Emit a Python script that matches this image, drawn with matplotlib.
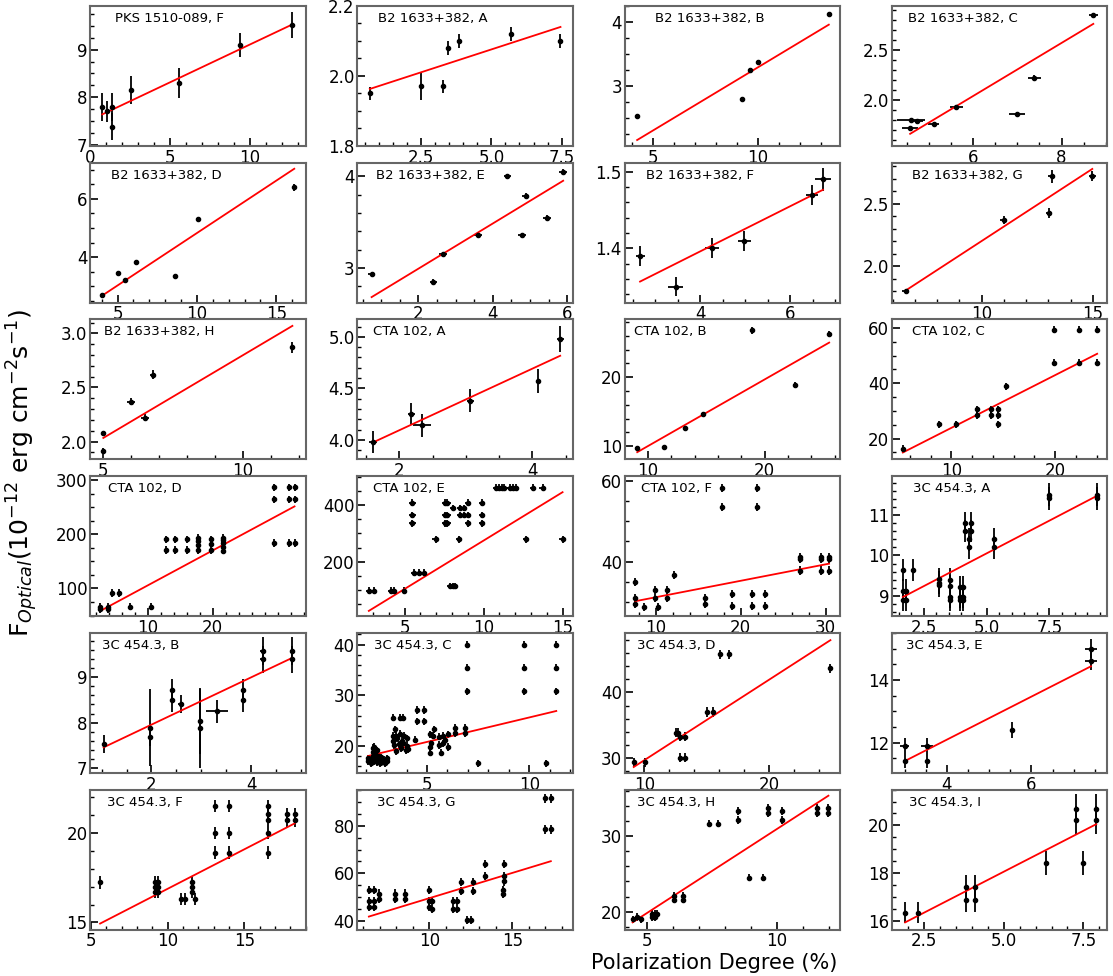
import numpy as np
import matplotlib.pyplot as plt
from matplotlib.ticker import MultipleLocator, FixedLocator

titles = ["PKS 1510-089, F", "B2 1633+382, A", "B2 1633+382, B", "B2 1633+382, C",
          "B2 1633+382, D", "B2 1633+382, E", "B2 1633+382, F", "B2 1633+382, G",
          "B2 1633+382, H", "CTA 102, A", "CTA 102, B", "CTA 102, C",
          "CTA 102, D", "CTA 102, E", "CTA 102, F", "3C 454.3, A",
          "3C 454.3, B", "3C 454.3, C", "3C 454.3, D", "3C 454.3, E",
          "3C 454.3, F", "3C 454.3, G", "3C 454.3, H", "3C 454.3, I"]

# PKS 1510-089, F
pks_f_x = [0.76, 1.05, 1.34, 1.34, 2.57, 5.54, 9.42, 12.68]
pks_f_y = [7.79, 7.71, 7.79, 7.38, 8.15, 8.30, 9.09, 9.52]
pks_f_xe = 0.1
pks_f_ye = [0.29, 0.22, 0.29, 0.28, 0.30, 0.32, 0.25, 0.27]

# B2 1633+382, A - H
b2a_x = [0.67, 2.5, 3.28, 3.45, 3.85, 5.70, 7.46]
b2a_y = [1.95, 1.97, 1.97, 2.08, 2.10, 2.12, 2.10]
b2a_xe = 0.08
b2a_ye = [0.018, 0.038, 0.018, 0.02, 0.02, 0.02, 0.02]

b2b_x = [4.23, 9.25, 9.63, 9.97, 13.37]
b2b_y = [2.53, 2.80, 3.25, 3.37, 4.12]
b2b_xe = 0.08
b2b_ye = 0.03

b2c_x = [4.57, 4.59, 4.72, 5.10, 5.62, 7.00, 7.38, 8.72]
b2c_y = [1.72, 1.80, 1.79, 1.76, 1.93, 1.86, 2.22, 2.85]
b2c_xe = [0.18, 0.31, 0.15, 0.12, 0.15, 0.18, 0.15, 0.10]
b2c_ye = [0.02, 0.02, 0.02, 0.02, 0.02, 0.02, 0.03, 0.02]

b2d_x = [4.03, 5.0, 5.49, 6.17, 8.6, 10.06, 16.13]
b2d_y = [2.70, 3.46, 3.21, 3.83, 3.34, 5.31, 6.39]
b2d_xe = 0.1
b2d_ye = [0.04, 0.08, 0.04, 0.04, 0.04, 0.04, 0.12]

b2e_x = [0.74, 2.40, 2.66, 3.60, 4.39, 4.88, 4.78, 5.46, 5.89]
b2e_y = [2.93, 2.85, 3.15, 3.36, 4.00, 3.79, 3.36, 3.55, 4.05]
b2e_xe = 0.1
b2e_ye = 0.025

b2f_x = [2.66, 3.45, 4.26, 4.98, 6.49, 6.73]
b2f_y = [1.39, 1.35, 1.40, 1.41, 1.47, 1.49]
b2f_xe = [0.10, 0.17, 0.15, 0.15, 0.13, 0.17]
b2f_ye = [0.013, 0.013, 0.013, 0.013, 0.013, 0.015]

b2g_x = [6.58, 10.98, 13.03, 13.15, 14.97]
b2g_y = [1.80, 2.37, 2.43, 2.72, 2.72]
b2g_xe = 0.15
b2g_ye = [0.02, 0.03, 0.04, 0.05, 0.04]

b2h_x = [5.0, 5.0, 5.98, 6.49, 6.76, 11.76]
b2h_y = [2.08, 1.91, 2.37, 2.22, 2.62, 2.87]
b2h_xe = [0.08, 0.08, 0.15, 0.15, 0.10, 0.10]
b2h_ye = [0.02, 0.03, 0.03, 0.03, 0.04, 0.05]

# CTA 102, A - F
ctaa_x = [1.61, 2.18, 2.34, 3.07, 4.09, 4.42]
ctaa_y = [3.98, 4.25, 4.14, 4.38, 4.57, 4.98]
ctaa_xe = [0.06, 0.05, 0.13, 0.05, 0.03, 0.05]
ctaa_ye = [0.11, 0.11, 0.11, 0.11, 0.12, 0.13]

ctab_x = [9.08, 11.38, 13.2, 14.74, 18.96, 22.6, 25.54]
ctab_y = [9.79, 9.9, 12.64, 14.61, 26.84, 18.9, 26.27]
ctab_xe = 0.15
ctab_ye = [0.25, 0.3, 0.3, 0.3, 0.5, 0.4, 0.5]

ctac_x = [5.33, 8.86, 10.45, 12.45, 12.45, 13.8, 13.8, 14.53, 14.53, 14.53,
          15.3, 19.93, 19.93, 22.35, 22.35, 24.06, 24.06]
ctac_y = [16.4, 25.2, 25.2, 30.6, 28.4, 30.6, 28.4, 30.6, 28.4, 25.2,
          38.9, 59.4, 47.5, 59.4, 47.5, 59.4, 47.5]
ctac_xe = 0.2
ctac_ye = 1.2

ctad_x = [2.69, 2.69, 3.85, 3.85, 4.4, 5.55, 7.25, 10.55, 12.86, 12.86,
          14.12, 14.12, 16.1, 16.1, 17.8, 17.8, 17.8, 17.8, 19.7, 19.7,
          19.7, 21.5, 21.5, 21.5, 21.5, 21.5, 29.4, 29.4, 29.4, 31.7,
          31.7, 31.7, 32.6, 32.6, 32.6]
ctad_y = [66.6, 62, 66.6, 62, 91.5, 91.5, 66.6, 66.6, 191, 171.5,
          191, 171.5, 191, 171.5, 193, 187, 180, 171.5, 191, 183,
          171.5, 193, 189, 183.6, 177, 170, 287, 265, 184.6, 287,
          265, 184.6, 287, 265, 184.6]
ctad_xe = 0.3
ctad_ye = 7

ctae_x = [2.74, 3.04, 4.16, 4.32, 4.95, 5.5, 5.5, 5.5, 5.63, 5.9,
          6.2, 6.96, 7.55, 7.55, 7.55, 7.71, 7.71, 7.71, 7.87, 8.05,
          8.2, 8.05, 8.45, 8.54, 8.54, 8.77, 8.77, 9.0, 9.0, 9.0,
          9.9, 9.9, 9.9, 10.8, 10.98, 11.16, 11.32, 11.7, 11.88, 12.04,
          12.67, 13.13, 13.74, 15.0]
ctae_y = [99, 99, 99, 99, 99, 409, 365, 336, 162.5, 162.5,
          162.5, 280, 409, 365, 336, 409, 365, 336, 115, 115,
          115, 390, 280, 390, 365, 390, 365, 409, 365, 336,
          409, 365, 336, 462, 462, 462, 462, 462, 462, 462,
          280, 462, 462, 280]
ctae_xe = 0.2
ctae_ye = 12

ctaf_x = [7.6, 7.6, 7.6, 8.66, 9.87, 9.87, 10.3, 11.38, 11.38, 12.2,
          15.8, 15.8, 17.76, 17.76, 19.0, 19.0, 21.3, 21.3, 21.95, 21.95,
          22.8, 22.8, 27.0, 27.0, 27.0, 29.4, 29.4, 29.4, 30.4, 30.4, 30.4]
ctaf_y = [35.0, 31.0, 29.6, 28.8, 32.9, 31.0, 28.8, 32.9, 31.0, 36.6,
          31.0, 29.6, 58.2, 53.6, 32.0, 29.0, 32.0, 29.0, 58.2, 53.6,
          32.0, 29.0, 41.25, 40.6, 37.8, 41.25, 40.6, 37.8, 41.25, 40.6, 37.8]
ctaf_xe = 0.2
ctaf_ye = 1.0

# 3C 454.3, A - I
c3a_x = [1.67, 1.67, 1.67, 1.8, 1.8, 2.06, 3.1, 3.1, 3.1, 3.53,
         3.53, 3.53, 3.53, 3.93, 3.93, 3.93, 4.07, 4.07, 4.07, 4.14,
         4.14, 4.31, 4.31, 4.39, 4.39, 5.29, 5.29, 7.47, 7.47, 9.39, 9.39]
c3a_y = [9.64, 9.13, 8.9, 9.13, 8.9, 9.64, 9.42, 9.33, 9.26, 9.40,
         9.24, 8.97, 8.9, 9.21, 8.97, 8.9, 9.21, 8.97, 8.9, 10.8,
         10.6, 10.4, 10.2, 10.8, 10.6, 10.4, 10.2, 11.5, 11.41, 11.5, 11.41]
c3a_xe = 0.03
c3a_ye = 0.28

c3b_x = [1.04, 1.98, 1.98, 2.42, 2.42, 2.6, 2.98, 2.98, 3.32, 3.84,
         3.84, 4.24, 4.24, 4.82, 4.82]
c3b_y = [7.54, 7.89, 7.68, 8.72, 8.49, 8.41, 8.03, 7.89, 8.25, 8.72,
         8.49, 9.57, 9.39, 9.57, 9.39]
c3b_xe = [0.03, 0.05, 0.05, 0.05, 0.05, 0.06, 0.03, 0.03, 0.22, 0.05,
          0.05, 0.06, 0.06, 0.05, 0.05]
c3b_ye = [0.2, 0.85, 0.2, 0.25, 0.25, 0.2, 0.72, 0.88, 0.25, 0.25,
          0.25, 0.3, 0.3, 0.3, 0.3]

c3c_x = [2.12, 2.12, 2.25, 2.25, 2.35, 2.35, 2.35, 2.42, 2.42, 2.48,
         2.48, 2.55, 2.55, 2.6, 2.6, 2.68, 2.68, 2.75, 2.8, 2.88,
         2.95, 3.05, 3.05, 3.32, 3.35, 3.35, 3.4, 3.45, 3.5, 3.5,
         3.55, 3.62, 3.7, 3.7, 3.75, 3.8, 3.85, 3.85, 3.9, 3.95,
         4.0, 4.0, 4.05, 4.42, 4.51, 4.51, 4.86, 4.86, 5.15, 5.15,
         5.15, 5.2, 5.3, 5.35, 5.6, 5.6, 5.7, 5.8, 5.8, 5.9,
         6.05, 6.05, 6.35, 6.35, 6.87, 6.87, 6.95, 6.95, 6.95, 7.47,
         9.74, 9.74, 9.74, 10.8, 11.32, 11.32, 11.32]
c3c_y = [17.0, 17.6, 16.6, 17.3, 18.0, 18.8, 19.6, 17.0, 19.9, 18.4,
         17.6, 16.8, 19.2, 17.4, 18.0, 16.6, 17.2, 17.8, 16.9, 17.3,
         16.6, 17.0, 17.6, 25.6, 22.0, 21.0, 20.2, 23.3, 22.0, 19.0,
         21.5, 20.3, 25.6, 22.4, 19.6, 21.0, 25.6, 20.5, 22.0, 19.2,
         21.5, 20.0, 19.4, 21.2, 27.1, 24.9, 27.1, 24.9, 22.3, 19.8,
         18.7, 20.5, 22.0, 23.3, 21.8, 20.2, 18.7, 22.0, 20.5, 21.2,
         22.3, 19.8, 23.6, 22.5, 23.6, 22.5, 40.0, 35.4, 30.8, 16.6,
         40.0, 35.4, 30.8, 16.6, 40.0, 35.4, 30.8]
c3c_xe = 0.04
c3c_ye = 0.7

c3d_x = [9.14, 10.06, 12.55, 12.7, 12.84, 12.84, 13.3, 13.3, 15.06, 15.5,
         16.1, 16.8, 24.95]
c3d_y = [29.34, 29.34, 33.85, 33.85, 33.2, 30.0, 33.2, 30.0, 37.0, 37.0,
         45.8, 45.8, 43.7]
c3d_xe = 0.15
c3d_ye = 0.7

c3e_x = [3.0, 3.0, 3.53, 3.53, 5.55, 7.41, 7.41]
c3e_y = [11.91, 11.43, 11.91, 11.43, 12.41, 15.0, 14.62]
c3e_xe = [0.1, 0.05, 0.15, 0.05, 0.05, 0.15, 0.15]
c3e_ye = [0.25, 0.25, 0.25, 0.25, 0.25, 0.3, 0.3]

c3f_x = [5.6, 9.15, 9.15, 9.15, 9.4, 9.4, 9.4, 10.9, 11.16, 11.6,
         11.6, 11.6, 11.8, 13.07, 13.07, 13.07, 14.0, 14.0, 14.0, 16.56,
         16.56, 16.56, 16.56, 16.56, 17.77, 17.77, 18.3, 18.3]
c3f_y = [17.24, 17.24, 16.96, 16.7, 17.24, 16.96, 16.7, 16.3, 16.3, 17.24,
         16.96, 16.7, 16.3, 21.5, 20.0, 18.9, 21.5, 20.0, 18.9, 21.5,
         21.06, 20.7, 20.0, 18.9, 21.06, 20.7, 21.06, 20.7]
c3f_xe = 0.05
c3f_ye = 0.35

c3g_x = [6.34, 6.34, 6.34, 6.66, 6.66, 6.66, 6.98, 6.98, 7.9, 7.9,
         8.55, 8.55, 10.0, 10.0, 10.0, 10.15, 10.15, 11.4, 11.4, 11.66,
         11.66, 11.88, 11.88, 12.26, 12.5, 12.6, 12.6, 13.36, 13.36, 14.52,
         14.52, 14.52, 14.47, 14.47, 16.96, 16.96, 17.33, 17.33]
c3g_y = [52.9, 48.4, 45.8, 52.9, 48.4, 45.8, 51.4, 49.4, 51.4, 49.4,
         51.4, 49.4, 52.9, 48.4, 45.8, 48.4, 44.9, 48.4, 44.9, 48.4,
         44.9, 56.4, 52.5, 40.3, 40.3, 56.4, 52.5, 63.9, 58.9, 63.9,
         58.9, 56.6, 52.9, 51.4, 91.5, 78.5, 91.5, 78.5]
c3g_xe = 0.05
c3g_ye = 1.8

c3h_x = [4.45, 4.62, 4.78, 5.2, 5.2, 5.3, 5.3, 5.4, 6.05, 6.05,
         6.37, 6.37, 7.38, 7.73, 8.48, 8.48, 8.92, 9.45, 9.64, 9.64,
         10.2, 10.2, 11.55, 11.55, 11.97, 11.97]
c3h_y = [18.95, 19.3, 18.95, 19.7, 19.3, 19.7, 19.3, 19.7, 22.05, 21.6,
         22.05, 21.6, 31.7, 31.7, 33.4, 32.2, 24.5, 24.5, 33.8, 33.1,
         33.4, 32.2, 33.8, 33.1, 33.8, 33.1]
c3h_xe = 0.05
c3h_ye = 0.5

c3i_x = [1.92, 2.31, 3.83, 3.83, 4.1, 4.1, 6.32, 7.28, 7.28, 7.5, 7.9, 7.9]
c3i_y = [16.33, 16.33, 17.4, 16.86, 17.4, 16.86, 18.42, 20.7, 20.23, 18.42, 20.7, 20.23]
c3i_xe = 0.05
c3i_ye = [0.45, 0.45, 0.5, 0.5, 0.5, 0.5, 0.5, 0.6, 0.6, 0.5, 0.6, 0.6]

# linear fits: F = slope * P + intercept
fit_slope = [0.1586, 0.0261, 0.1975, 0.265, 0.3595, 0.247, 0.0295, 0.116,
             0.1534, 0.299, 0.9666, 1.906, 6.46, 34.1, 0.408, 0.324,
             0.519, 0.965, 1.227, 0.685, 0.441, 2.12, 2.238, 0.69]
fit_icept = [7.52, 1.945, 1.315, 0.449, 1.231, 2.497, 1.278, 1.043,
             1.266, 3.495, 0.343, 4.81, 41.3, -66.0, 27.1, 8.43,
             6.92, 15.98, 17.38, 9.36, 12.47, 28.36, 8.61, 14.6]

panels = [
    (pks_f_x, pks_f_y, pks_f_xe, pks_f_ye),
    (b2a_x, b2a_y, b2a_xe, b2a_ye), (b2b_x, b2b_y, b2b_xe, b2b_ye),
    (b2c_x, b2c_y, b2c_xe, b2c_ye), (b2d_x, b2d_y, b2d_xe, b2d_ye),
    (b2e_x, b2e_y, b2e_xe, b2e_ye), (b2f_x, b2f_y, b2f_xe, b2f_ye),
    (b2g_x, b2g_y, b2g_xe, b2g_ye), (b2h_x, b2h_y, b2h_xe, b2h_ye),
    (ctaa_x, ctaa_y, ctaa_xe, ctaa_ye), (ctab_x, ctab_y, ctab_xe, ctab_ye),
    (ctac_x, ctac_y, ctac_xe, ctac_ye), (ctad_x, ctad_y, ctad_xe, ctad_ye),
    (ctae_x, ctae_y, ctae_xe, ctae_ye), (ctaf_x, ctaf_y, ctaf_xe, ctaf_ye),
    (c3a_x, c3a_y, c3a_xe, c3a_ye), (c3b_x, c3b_y, c3b_xe, c3b_ye),
    (c3c_x, c3c_y, c3c_xe, c3c_ye), (c3d_x, c3d_y, c3d_xe, c3d_ye),
    (c3e_x, c3e_y, c3e_xe, c3e_ye), (c3f_x, c3f_y, c3f_xe, c3f_ye),
    (c3g_x, c3g_y, c3g_xe, c3g_ye), (c3h_x, c3h_y, c3h_xe, c3h_ye),
    (c3i_x, c3i_y, c3i_xe, c3i_ye),
]

# axis ranges and tick spacing (major, minor) per panel
xlims = [(0, 13.5), (0.23, 7.9), (3.64, 13.91), (4.16, 9.04), (3.27, 16.84), (0.36, 6.15),
         (2.32, 7.11), (5.97, 15.65), (4.53, 12.23), (1.37, 4.61), (8.01, 26.48), (4.29, 25.05),
         (1.1, 34.3), (2.02, 15.65), (6.35, 31.7), (1.24, 9.81), (0.77, 5.09), (1.6, 12.13),
         (8.42, 25.73), (2.7, 7.8), (4.95, 19.0), (5.65, 18.66), (4.15, 12.42), (1.51, 8.25)]
ylims = [(6.98, 9.92), (1.8, 2.2), (2.06, 4.25), (1.54, 2.94), (2.44, 7.24), (2.62, 4.15),
         (1.329, 1.512), (1.71, 2.83), (1.835, 3.13), (3.81, 5.17), (8.08, 28.4), (12.5, 63.1),
         (48.9, 307.9), (9, 502), (26.5, 61.2), (8.5, 11.96), (6.9, 9.97), (14.7, 42.3),
         (27.7, 49.1), (11.04, 15.5), (14.6, 22.42), (36.3, 95.2), (17.6, 36.2), (15.62, 21.5)]
xticks = [(5, 1), (2.5, 0.5), (5, 1), (2, 0.5), (5, 1), (2, 0.5), (2, 0.5), (5, 1),
          (5, 1), (2, 0.5), (10, 2), (10, 2), (10, 2), (5, 1), (10, 2), (2.5, 0.5),
          (2, 0.5), (5, 1), (10, 2), (2, 0.5), (5, 1), (5, 1), (5, 1), (2.5, 0.5)]
yticks = [(1, 0.25), (0.2, 0.05), (1, 0.25), (0.5, 0.1), (2, 0.5), (1, 0.2), (0.1, 0.02), (0.5, 0.1),
          (0.5, 0.1), (0.5, 0.1), (10, 2), (20, 5), (100, 25), (200, 50), (20, 5), (1, 0.2),
          (1, 0.2), (10, 2), (10, 2), (2, 0.5), (5, 1), (20, 5), (10, 2), (2, 0.5)]
# CTA 102, D only labels 10 and 20
fixed_xmajor = {12: [10, 20]}
title_x = [0.116, 0.094, 0.139, 0.075, 0.099, 0.086, 0.099, 0.092, 0.066, 0.07, 0.045, 0.093,
           0.083, 0.073, 0.075, 0.097, 0.056, 0.078, 0.056, 0.063, 0.078, 0.091, 0.056, 0.077]

fig, axes = plt.subplots(6, 4, figsize=(11.13, 9.76), dpi=100)
plt.subplots_adjust(left=0.081, right=0.995, top=0.994, bottom=0.0475,
                    wspace=0.241, hspace=0.12)

for i, ax in enumerate(axes.flat):
    x, y, xe, ye = panels[i]
    ax.errorbar(x, y, xerr=xe, yerr=ye, fmt='o', color='k', ms=3,
                elinewidth=1.3, capsize=0)
    xs = np.array([min(x), max(x)])
    ax.plot(xs, fit_slope[i] * xs + fit_icept[i], 'r-', lw=1.3)
    ax.set_xlim(xlims[i])
    ax.set_ylim(ylims[i])
    if i in fixed_xmajor:
        ax.xaxis.set_major_locator(FixedLocator(fixed_xmajor[i]))
    else:
        ax.xaxis.set_major_locator(MultipleLocator(xticks[i][0]))
    ax.xaxis.set_minor_locator(MultipleLocator(xticks[i][1]))
    ax.yaxis.set_major_locator(MultipleLocator(yticks[i][0]))
    ax.yaxis.set_minor_locator(MultipleLocator(yticks[i][1]))
    ax.tick_params(which='major', direction='in', length=6, width=1.2,
                   labelsize=12, pad=2)
    ax.tick_params(which='minor', direction='in', length=3, width=1)
    for s in ax.spines.values():
        s.set_color('#666666')
        s.set_linewidth(1.5)
    ax.text(title_x[i], 0.91, titles[i], transform=ax.transAxes,
            fontsize=9.5, va='center', ha='left')

fig.text(0.02, 0.516, r'F$_{Optical}$(10$^{-12}$ erg cm$^{-2}$s$^{-1}$)',
         rotation=90, fontsize=18, va='center', ha='center')
fig.text(0.642, 0.013, 'Polarization Degree (%)', fontsize=15,
         va='center', ha='center')

plt.savefig('out.png', dpi=100)
